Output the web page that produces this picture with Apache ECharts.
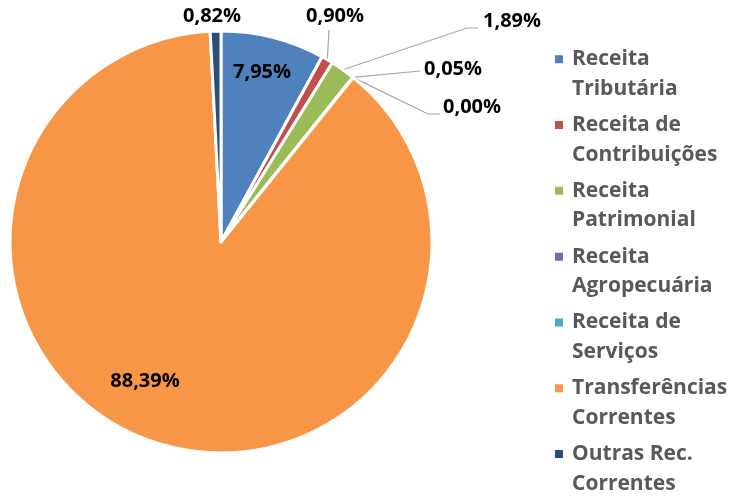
<!DOCTYPE html>
<html>
<head>
    <meta charset="utf-8">
    <title>Receitas Correntes</title>
    <script src="https://cdn.jsdelivr.net/npm/echarts@6/dist/echarts.min.js"></script>
</head>
<body style="margin:0;background:#fff">
<div id="chart" style="width:735px;height:497px;"></div>
<script>
    // dados
    var categorias = ['Receita\nTributária', 'Receita de\nContribuições', 'Receita\nPatrimonial',
        'Receita\nAgropecuária', 'Receita de\nServiços', 'Transferências\nCorrentes', 'Outras Rec.\nCorrentes'];
    var percentuais = [7.95, 0.90, 1.89, 0.05, 0.00, 88.39, 0.82];
    var cores = ['#4F81BD', '#C0504D', '#9BBB59', '#8064A2', '#4BACC6', '#F79646', '#2C4D75'];

    // posicao dos rotulos (centro do texto) e pontas das linhas guia
    var posRotulo = [[262, 72], [335, 16], [512, 21], [453, 69], [472, 107], [145, 381], [212, 16]];
    var guia = {
        1: [[329, 30]],
        2: [[467, 28], [478, 28]],
        3: [[420, 71]],
        4: [[428, 114], [440, 114]]
    };

    var dados = [];
    var legenda = [];
    for (var i = 0; i < categorias.length; i++) {
        dados.push({
            name: categorias[i],
            value: percentuais[i],
            itemStyle: {color: cores[i]},
            labelLine: {show: !!guia[i]}
        });
        legenda.push({name: categorias[i], textStyle: {color: '#595959'}});
    }

    var myChart = echarts.init(document.getElementById('chart'));
    var option = {
        animation: false,
        legend: {
            orient: 'vertical',
            left: 553,
            top: 15,
            height: 495,
            padding: 0,
            itemWidth: 10,
            itemHeight: 10,
            itemGap: -22.7,
            icon: 'rect',
            selectedMode: false,
            data: legenda,
            // linha vazia em cima para o quadrado ficar na primeira linha do nome
            formatter: function (name) {
                return ' \n' + name;
            },
            textStyle: {
                fontFamily: 'Open Sans',
                fontWeight: 'bold',
                fontSize: 21,
                color: '#595959',
                lineHeight: 29.5,
                padding: [0, 0, 0, 3]
            }
        },
        series: [{
            type: 'pie',
            center: [221, 242],
            radius: 211,
            startAngle: 90,
            avoidLabelOverlap: false,
            itemStyle: {borderColor: '#fff', borderWidth: 3},
            label: {
                show: true,
                position: 'outside',
                fontFamily: 'Open Sans',
                fontWeight: 'bold',
                fontSize: 20,
                color: '#000',
                formatter: function (p) {
                    return p.value.toFixed(2).replace('.', ',') + '%';
                }
            },
            labelLine: {
                lineStyle: {color: '#A6A6A6', width: 1.2}
            },
            labelLayout: function (p) {
                var pos = posRotulo[p.dataIndex];
                var res = {x: pos[0], y: pos[1], align: 'center', verticalAlign: 'middle'};
                if (guia[p.dataIndex] && p.labelLinePoints) {
                    var pts = [p.labelLinePoints[0]];
                    var g = guia[p.dataIndex];
                    for (var k = 0; k < g.length; k++) {
                        pts.push(g[k]);
                    }
                    res.labelLinePoints = pts;
                }
                return res;
            },
            emphasis: {disabled: true},
            data: dados
        }]
    };
    myChart.setOption(option);
</script>
</body>
</html>
